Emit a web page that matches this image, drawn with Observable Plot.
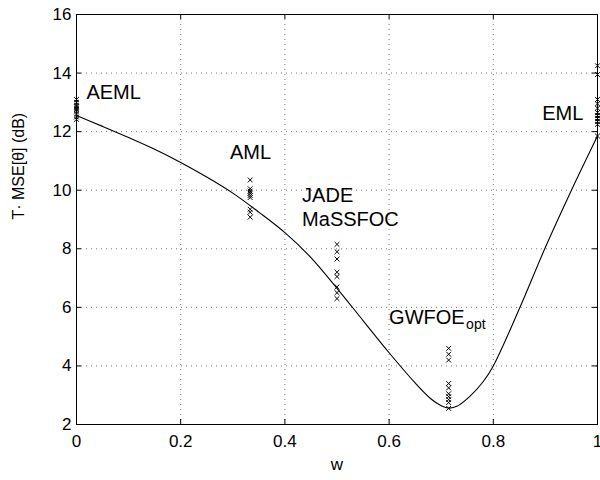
<!DOCTYPE html>
<html>
<head>
<meta charset="utf-8">
<script src="https://cdn.jsdelivr.net/npm/d3@7"></script>
<script src="https://cdn.jsdelivr.net/npm/@observablehq/plot@0.6"></script>
<style>
  html, body { margin: 0; padding: 0; background: #fff; }
  #chart { width: 600px; height: 480px; }
</style>
</head>
<body>
<div id="chart"></div>
<script>
// ---- data ----
const curveW = [0, 0.05, 0.1, 0.15, 0.2, 0.25, 0.3, 0.35, 0.4, 0.45, 0.5, 0.55, 0.6, 0.65, 0.68, 0.7, 0.715, 0.73, 0.756, 0.78, 0.8, 0.85, 0.9, 0.95, 1.0];
const curveMSE = [12.55, 12.18, 11.8, 11.4, 10.95, 10.45, 9.9, 9.25, 8.55, 7.7, 6.65, 5.55, 4.45, 3.42, 2.88, 2.64, 2.56, 2.62, 2.98, 3.45, 4.0, 5.95, 8.05, 10.0, 11.85];

const aemlW = 0;
const aemlMSE = [13.1, 13.0, 12.9, 12.85, 12.8, 12.75, 12.7, 12.6, 12.5, 12.42];
const amlW = 1 / 3;
const amlMSE = [10.35, 10.05, 9.97, 9.9, 9.82, 9.75, 9.35, 9.25, 9.08];
const jadeW = 0.5;
const jadeMSE = [8.15, 7.9, 7.65, 7.2, 7.05, 6.7, 6.5, 6.3];
const gwfoeW = 5 / 7;
const gwfoeMSE = [4.6, 4.4, 4.2, 3.4, 3.25, 3.05, 2.95, 2.85, 2.75, 2.55];
const emlW = 1;
const emlMSE = [14.25, 13.95, 13.1, 12.95, 12.8, 12.65, 12.55, 12.45, 12.35, 12.25, 11.85];

const xTicks = [0, 0.2, 0.4, 0.6, 0.8, 1];
const yTicks = [2, 4, 6, 8, 10, 12, 14, 16];

const labelNames = ["AEML", "AML", "JADE", "MaSSFOC", "GWFOE", "EML"];
const xLabel = "w";
const yLabel = "T\u00B7 MSE[\u03B8] (dB)";
const subLabel = "opt";

// ---- build tables ----
const curve = curveW.map((w, i) => ({w, v: curveMSE[i]}));
const pts = [
  ...aemlMSE.map(v => ({w: aemlW, v})),
  ...amlMSE.map(v => ({w: amlW, v})),
  ...jadeMSE.map(v => ({w: jadeW, v})),
  ...gwfoeMSE.map(v => ({w: gwfoeW, v})),
  ...emlMSE.map(v => ({w: emlW, v}))
];
// annotation anchor points (data space)
const annots = [
  {t: labelNames[0], w: 0.019, v: 13.35, anchor: "start"},
  {t: labelNames[1], w: 0.334, v: 11.3, anchor: "middle"},
  {t: labelNames[2], w: 0.433, v: 9.8, anchor: "start"},
  {t: labelNames[3], w: 0.433, v: 9.0, anchor: "start"},
  {t: labelNames[4], w: 0.6, v: 5.64, anchor: "start"},
  {t: labelNames[5], w: 0.894, v: 12.6, anchor: "start"}
];

const W = 600, H = 480;
const mL = 76, mR = 3, mT = 14, mB = 56;
const innerW = W - mL - mR, innerH = H - mT - mB;
const tickLen = 5;
const font = "'Liberation Sans', Arial, Helvetica, sans-serif";

const chart = Plot.plot({
  width: W,
  height: H,
  marginLeft: mL,
  marginRight: mR,
  marginTop: mT,
  marginBottom: mB,
  style: {fontFamily: font, fontSize: "17px", color: "#000", background: "#fff"},
  x: {domain: [0, 1]},
  y: {domain: [2, 16]},
  marks: [
    // dotted grid
    Plot.ruleX(xTicks.slice(1, -1), {x: d => d, stroke: "#000", strokeOpacity: 0.55, strokeDasharray: "1,4"}),
    Plot.ruleY(yTicks.slice(1, -1), {y: d => d, stroke: "#000", strokeOpacity: 0.55, strokeDasharray: "1,4"}),
    // inward ticks on all four sides
    Plot.ruleX(xTicks, {x: d => d, insetTop: innerH - tickLen, stroke: "#000"}),
    Plot.ruleX(xTicks, {x: d => d, insetBottom: innerH - tickLen, stroke: "#000"}),
    Plot.ruleY(yTicks, {y: d => d, insetRight: innerW - tickLen, stroke: "#000"}),
    Plot.ruleY(yTicks, {y: d => d, insetLeft: innerW - tickLen, stroke: "#000"}),
    // tick labels
    Plot.axisX(xTicks, {anchor: "bottom", tickSize: 0, tickPadding: 10, tickFormat: d => String(d), label: null, fontSize: 17}),
    Plot.axisY(yTicks, {anchor: "left", tickSize: 0, tickPadding: 5, tickFormat: d => String(d), label: null, fontSize: 17}),
    // curve
    Plot.line(curve, {x: "w", y: "v", curve: "catmull-rom", stroke: "#000", strokeWidth: 1.1}),
    // markers
    Plot.dot(pts, {x: "w", y: "v", symbol: "times", r: 2.3, stroke: "#000", strokeWidth: 1}),
    // annotations
    Plot.text(annots, {x: "w", y: "v", text: "t", textAnchor: "start", fontSize: 20, fill: "#000", filter: d => d.anchor === "start"}),
    Plot.text(annots, {x: "w", y: "v", text: "t", textAnchor: "middle", fontSize: 20, fill: "#000", filter: d => d.anchor === "middle"}),
    Plot.text([annots[4]], {x: "w", y: "v", text: () => subLabel, textAnchor: "start", dx: 77, dy: 7, fontSize: 14, fill: "#000"}),
    // axis titles
    Plot.text([xLabel], {frameAnchor: "bottom", text: d => d, dy: 45, fontSize: 17, fill: "#000"}),
    Plot.text([yLabel], {frameAnchor: "left", text: d => d, rotate: -90, dx: -58, dy: 0, fontSize: 16, fill: "#000"}),
    // box
    Plot.frame({stroke: "#000", strokeWidth: 1})
  ]
});
document.getElementById("chart").appendChild(chart);
</script>
</body>
</html>
